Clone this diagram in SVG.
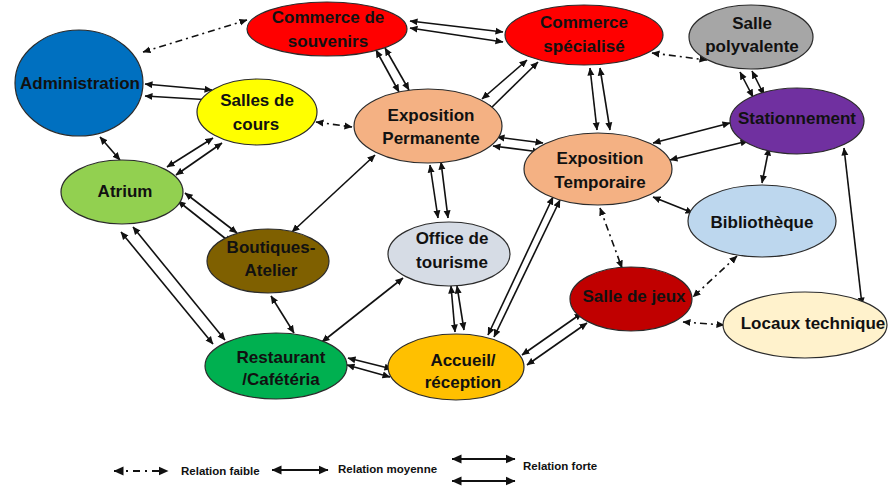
<svg xmlns="http://www.w3.org/2000/svg" width="891" height="488" viewBox="0 0 891 488">
<style>
.n ellipse{stroke:#2b2b2b;stroke-width:1.2}
.n text{font-family:"Liberation Sans",Arial,sans-serif;font-weight:bold;font-size:17px;fill:#111;text-anchor:middle}
.c line{stroke:#111;stroke-width:1.6;fill:none}
.c line.w{stroke-dasharray:7 4 2 4}
.lg line{stroke:#111;stroke-width:2.2}
.lg line.w{stroke-dasharray:7 5 2 5}
.lg text{font-family:"Liberation Sans",Arial,sans-serif;font-weight:bold;font-size:11.5px;fill:#111}
</style>
<defs>
<marker id="a" viewBox="0 0 8 8" refX="7.5" refY="4" markerWidth="8" markerHeight="8" markerUnits="userSpaceOnUse" orient="auto-start-reverse"><path d="M0,0.5 L8,4 L0,7.5 z" fill="#111"/></marker>
<marker id="b" viewBox="0 0 10 10" refX="9.5" refY="5" markerWidth="10" markerHeight="10" markerUnits="userSpaceOnUse" orient="auto-start-reverse"><path d="M0,0.5 L10,5 L0,9.5 z" fill="#111"/></marker>
</defs>
<rect width="891" height="488" fill="#fff"/>

<g class="c">
<line class="w" x1="143" y1="52" x2="247" y2="20" marker-start="url(#a)" marker-end="url(#a)"/>
<line x1="145" y1="84" x2="212" y2="90" marker-start="url(#a)" marker-end="url(#a)"/>
<line x1="145" y1="96" x2="212" y2="100" marker-start="url(#a)" marker-end="url(#a)"/>
<line x1="100" y1="137" x2="120" y2="160" marker-start="url(#a)" marker-end="url(#a)"/>
<line x1="167" y1="167" x2="213" y2="138" marker-start="url(#a)" marker-end="url(#a)"/>
<line x1="176" y1="175" x2="222" y2="143" marker-start="url(#a)" marker-end="url(#a)"/>
<line class="w" x1="316" y1="122" x2="352" y2="127" marker-start="url(#a)" marker-end="url(#a)"/>
<line x1="376" y1="50" x2="399" y2="92" marker-start="url(#a)" marker-end="url(#a)"/>
<line x1="385" y1="48" x2="409" y2="90" marker-start="url(#a)" marker-end="url(#a)"/>
<line x1="410" y1="21" x2="503" y2="32" marker-start="url(#a)" marker-end="url(#a)"/>
<line x1="410" y1="28" x2="503" y2="42" marker-start="url(#a)" marker-end="url(#a)"/>
<line x1="527" y1="60" x2="482" y2="99" marker-start="url(#a)" marker-end="url(#a)"/>
<line x1="538" y1="62" x2="487" y2="112" marker-start="url(#a)" marker-end="url(#a)"/>
<line x1="497" y1="137" x2="543" y2="143" marker-start="url(#a)" marker-end="url(#a)"/>
<line x1="493" y1="146" x2="540" y2="152" marker-start="url(#a)" marker-end="url(#a)"/>
<line x1="590" y1="68" x2="597" y2="130" marker-start="url(#a)" marker-end="url(#a)"/>
<line x1="600" y1="68" x2="610" y2="130" marker-start="url(#a)" marker-end="url(#a)"/>
<line class="w" x1="652" y1="53" x2="707" y2="60" marker-start="url(#a)" marker-end="url(#a)"/>
<line x1="740" y1="72" x2="753" y2="97" marker-start="url(#a)" marker-end="url(#a)"/>
<line x1="752" y1="71" x2="764" y2="95" marker-start="url(#a)" marker-end="url(#a)"/>
<line x1="730" y1="123" x2="653" y2="143" marker-start="url(#a)" marker-end="url(#a)"/>
<line x1="748" y1="141" x2="670" y2="160" marker-start="url(#a)" marker-end="url(#a)"/>
<line x1="769" y1="148" x2="762" y2="183" marker-start="url(#a)" marker-end="url(#a)"/>
<line x1="844" y1="148" x2="862" y2="305" marker-start="url(#a)" marker-end="url(#a)"/>
<line x1="653" y1="197" x2="693" y2="213" marker-start="url(#a)" marker-end="url(#a)"/>
<line class="w" x1="600" y1="208" x2="622" y2="268" marker-start="url(#a)" marker-end="url(#a)"/>
<line class="w" x1="737" y1="256" x2="693" y2="297" marker-start="url(#a)" marker-end="url(#a)"/>
<line class="w" x1="683" y1="322" x2="724" y2="325" marker-start="url(#a)" marker-end="url(#a)"/>
<line x1="522" y1="355" x2="582" y2="313" marker-start="url(#a)" marker-end="url(#a)"/>
<line x1="527" y1="365" x2="587" y2="323" marker-start="url(#a)" marker-end="url(#a)"/>
<line x1="553" y1="197" x2="488" y2="335" marker-start="url(#a)" marker-end="url(#a)"/>
<line x1="560" y1="200" x2="494" y2="337" marker-start="url(#a)" marker-end="url(#a)"/>
<line x1="430" y1="165" x2="438" y2="218" marker-start="url(#a)" marker-end="url(#a)"/>
<line x1="441" y1="162" x2="448" y2="218" marker-start="url(#a)" marker-end="url(#a)"/>
<line x1="451" y1="286" x2="455" y2="332" marker-start="url(#a)" marker-end="url(#a)"/>
<line x1="457" y1="286" x2="464" y2="330" marker-start="url(#a)" marker-end="url(#a)"/>
<line x1="403" y1="278" x2="322" y2="342" marker-start="url(#a)" marker-end="url(#a)"/>
<line x1="348" y1="358" x2="392" y2="369" marker-start="url(#a)" marker-end="url(#a)"/>
<line x1="347" y1="365" x2="390" y2="377" marker-start="url(#a)" marker-end="url(#a)"/>
<line x1="292" y1="232" x2="375" y2="155" marker-start="url(#a)" marker-end="url(#a)"/>
<line x1="185" y1="193" x2="237" y2="233" marker-start="url(#a)" marker-end="url(#a)"/>
<line x1="178" y1="201" x2="231" y2="243" marker-start="url(#a)" marker-end="url(#a)"/>
<line x1="121" y1="232" x2="213" y2="344" marker-start="url(#a)" marker-end="url(#a)"/>
<line x1="133" y1="227" x2="225" y2="340" marker-start="url(#a)" marker-end="url(#a)"/>
<line x1="271" y1="296" x2="294" y2="333" marker-start="url(#a)" marker-end="url(#a)"/>
</g>

<g id="administration" class="n"><ellipse cx="79" cy="83" rx="64" ry="53" fill="#0070C0"/><text x="80" y="89">Administration</text></g>
<g id="commerce-souvenirs" class="n"><ellipse cx="327" cy="29" rx="80" ry="27" fill="#FF0000"/><text x="328" y="23">Commerce de</text><text x="328" y="47">souvenirs</text></g>
<g id="commerce-specialise" class="n"><ellipse cx="584" cy="35" rx="79" ry="30" fill="#FF0000"/><text x="584" y="28">Commerce</text><text x="584" y="52">spécialisé</text></g>
<g id="salle-polyvalente" class="n"><ellipse cx="751" cy="37" rx="62" ry="32" fill="#A6A6A6"/><text x="752" y="29">Salle</text><text x="752" y="52">polyvalente</text></g>
<g id="stationnement" class="n"><ellipse cx="797" cy="121" rx="67" ry="33" fill="#7030A0"/><text x="797" y="124">Stationnement</text></g>
<g id="exposition-temporaire" class="n"><ellipse cx="598" cy="169" rx="74" ry="36" fill="#F4B183"/><text x="600" y="164">Exposition</text><text x="600" y="188">Temporaire</text></g>
<g id="bibliotheque" class="n"><ellipse cx="762" cy="221" rx="74" ry="36" fill="#BDD7EE"/><text x="762" y="228">Bibliothèque</text></g>
<g id="salle-jeux" class="n"><ellipse cx="631" cy="299" rx="61" ry="32" fill="#C00000"/><text x="634" y="302">Salle de jeux</text></g>
<g id="locaux-technique" class="n"><ellipse cx="805" cy="325" rx="82" ry="33" fill="#FFF2CC"/><text x="813" y="329">Locaux technique</text></g>
<g id="salles-cours" class="n"><ellipse cx="257" cy="112" rx="60" ry="33" fill="#FFFF00"/><text x="257" y="106">Salles de</text><text x="256" y="130">cours</text></g>
<g id="exposition-permanente" class="n"><ellipse cx="428" cy="126" rx="74" ry="37" fill="#F4B183"/><text x="431" y="121">Exposition</text><text x="431" y="144">Permanente</text></g>
<g id="atrium" class="n"><ellipse cx="122" cy="192" rx="61" ry="32" fill="#92D050"/><text x="125" y="197">Atrium</text></g>
<g id="boutiques-atelier" class="n"><ellipse cx="268" cy="261" rx="61" ry="32" fill="#7F6000"/><text x="271" y="253">Boutiques-</text><text x="271" y="276">Atelier</text></g>
<g id="restaurant" class="n"><ellipse cx="276" cy="366" rx="71" ry="33" fill="#00B050"/><text x="281" y="363">Restaurant</text><text x="281" y="385">/Cafétéria</text></g>
<g id="office-tourisme" class="n"><ellipse cx="449" cy="254" rx="61" ry="32" fill="#D6DCE5"/><text x="452" y="244">Office de</text><text x="452" y="268">tourisme</text></g>
<g id="accueil" class="n"><ellipse cx="456" cy="367" rx="68" ry="33" fill="#FFC000"/><text x="463" y="366">Accueil/</text><text x="463" y="388">réception</text></g>

<g id="legende" class="lg">
<line class="w" x1="114" y1="471" x2="168" y2="471" marker-start="url(#b)" marker-end="url(#b)"/>
<text x="181" y="475">Relation faible</text>
<line x1="272" y1="470" x2="328" y2="470" marker-start="url(#b)" marker-end="url(#b)"/>
<text x="338" y="473">Relation moyenne</text>
<line x1="452" y1="459" x2="515" y2="459" marker-start="url(#b)" marker-end="url(#b)"/>
<line x1="452" y1="481" x2="515" y2="481" marker-start="url(#b)" marker-end="url(#b)"/>
<text x="523" y="470">Relation forte</text>
</g>
</svg>
